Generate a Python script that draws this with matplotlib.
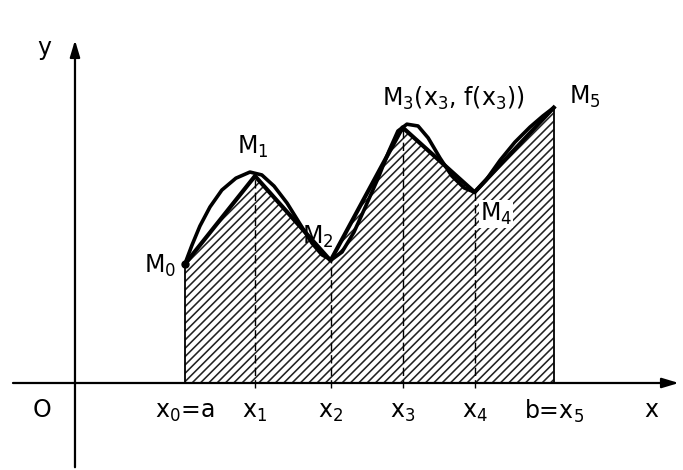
import matplotlib
matplotlib.use("Agg")
import matplotlib.pyplot as plt

# nodes M0..M5 of the trapezoid polygon
xNodes = [3.05, 5.0, 7.1, 9.1, 11.1, 13.3]
yNodes = [3.3, 5.75, 3.4, 7.1, 5.3, 7.65]
nodeLabels = ["x$_0$=a", "x$_1$", "x$_2$", "x$_3$", "x$_4$", "b=x$_5$"]

# points read along the hand drawn curve y = f(x)
xCurve = [3.05, 3.25, 3.47, 3.75, 4.08, 4.47, 4.86, 5.19, 5.53, 5.89, 6.25, 6.58,
          6.86, 7.12, 7.42, 7.75, 8.08, 8.42, 8.72, 8.97, 9.22, 9.53, 9.81, 10.14,
          10.47, 10.81, 11.1, 11.42, 11.81, 12.22, 12.64, 13.0, 13.3]
yCurve = [3.3, 3.83, 4.36, 4.89, 5.36, 5.69, 5.86, 5.78, 5.47, 5.0, 4.42, 3.89,
          3.56, 3.42, 3.64, 4.19, 4.92, 5.69, 6.44, 7.0, 7.19, 7.14, 6.81, 6.25,
          5.75, 5.42, 5.3, 5.64, 6.19, 6.69, 7.11, 7.42, 7.65]

plt.rcParams['hatch.linewidth'] = 1.15
fig = plt.figure(figsize=(6.83, 4.70), dpi=100)
ax = fig.add_axes([0, 0, 1, 1])
ax.set_xlim(-2.083, 16.89)
ax.set_ylim(-2.417, 10.64)
ax.axis("off")

# axes with arrows
ax.annotate("", xy=(16.85, 0), xytext=(-1.8, 0),
            arrowprops=dict(arrowstyle="-|>,head_length=1.0,head_width=0.3", color="black", lw=1.6))
ax.annotate("", xy=(0, 9.6), xytext=(0, -2.417),
            arrowprops=dict(arrowstyle="-|>,head_length=1.0,head_width=0.3", color="black", lw=1.6))

# hatched trapezoids
ax.fill_between(xNodes, yNodes, 0, facecolor="white", edgecolor="#222222", hatch="////", linewidth=0)
ax.plot([xNodes[0], xNodes[0]], [0, yNodes[0]], color="black", lw=1.3)
ax.plot([xNodes[-1], xNodes[-1]], [0, yNodes[-1]], color="black", lw=1.3)
for i in range(1, 5):
    ax.plot([xNodes[i], xNodes[i]], [-0.15, yNodes[i]], color="black", lw=1.0, dashes=(6, 3))

# chords and curve
ax.plot(xNodes, yNodes, color="black", lw=3, solid_joinstyle="round")
ax.plot(xCurve, yCurve, color="black", lw=2.6, solid_joinstyle="round", solid_capstyle="round")
ax.plot(xNodes[0], yNodes[0], "o", color="black", ms=5)

fs = 17
for i in range(6):
    ax.text(xNodes[i], -0.8, nodeLabels[i], fontsize=fs, ha="center", va="center")
ax.text(-0.92, -0.75, "O", fontsize=fs, ha="center", va="center")
ax.text(16.0, -0.75, "x", fontsize=fs, ha="center", va="center")
ax.text(-0.85, 9.3, "y", fontsize=fs, ha="center", va="center")

ax.text(2.35, 3.25, "M$_0$", fontsize=fs, ha="center", va="center")
ax.text(4.95, 6.55, "M$_1$", fontsize=fs, ha="center", va="center")
ax.text(6.75, 4.05, "M$_2$", fontsize=fs, ha="center", va="center")
ax.text(10.5, 7.9, "M$_3$(x$_3$, f(x$_3$))", fontsize=fs, ha="center", va="center")
ax.text(14.15, 7.95, "M$_5$", fontsize=fs, ha="center", va="center")
ax.text(11.7, 4.7, "M$_4$", fontsize=fs, ha="center", va="center",
        bbox=dict(facecolor="white", edgecolor="none", pad=0.5))

fig.savefig("out.png", dpi=100)
